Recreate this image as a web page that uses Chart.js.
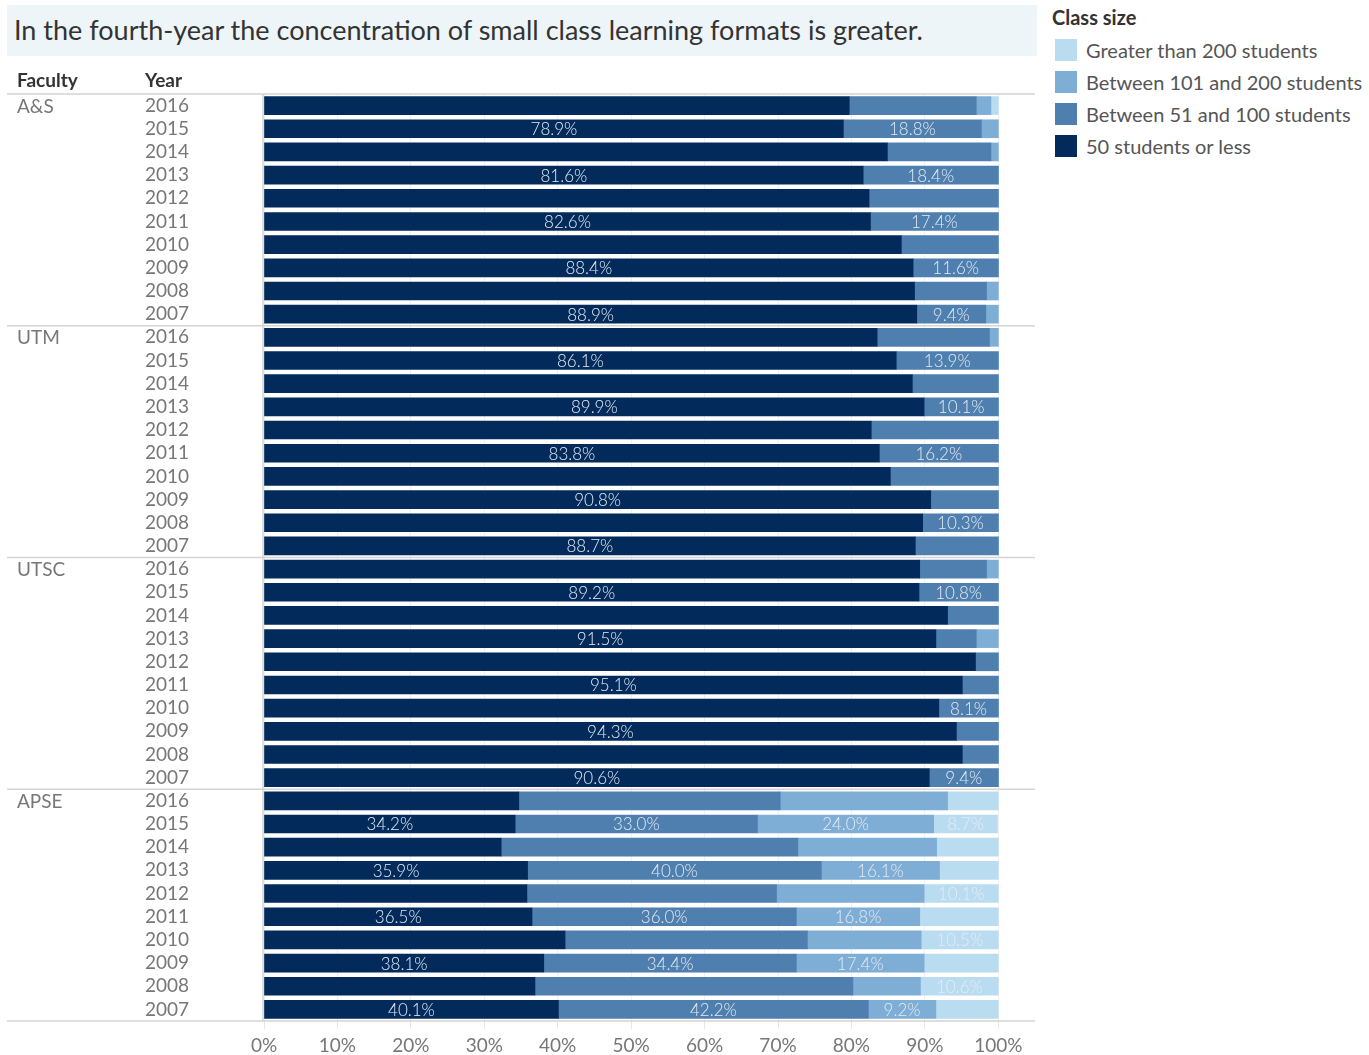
<!DOCTYPE html>
<html>
<head>
<meta charset="utf-8">
<script src="https://cdn.jsdelivr.net/npm/chart.js@4.4.1/dist/chart.umd.min.js"></script>
<style>
body { margin: 0; background: #fff; font-family: Lato, "Noto Sans", sans-serif; }
#wrap { position: relative; width: 1369px; height: 1055px; overflow: hidden; }
#chartBox { position: absolute; left: 0; top: 0; width: 1040px; height: 1055px; }
#title { position: absolute; left: 7px; top: 5px; width: 1030px; height: 51px; background: #eef5f9;
         color: #333; font-size: 27px; line-height: 50px; padding-left: 7px; box-sizing: border-box; }
.hdr { position: absolute; top: 68px; font-size: 19px; color: #333; font-weight: 700; }
#legend { position: absolute; left: 1052px; top: 5px; }
#legend .ttl { font-size: 20px; font-weight: 700; color: #333; margin-bottom: 5px; }
#legend .item { display: flex; align-items: center; height: 32px; margin-left: 3px; }
#legend .sw { width: 22px; height: 22px; margin-right: 9px; }
#legend .lbl { font-size: 20px; color: #555; }
</style>
</head>
<body>
<div id="wrap">
  <div id="chartBox"><canvas id="chart"></canvas></div>
  <div id="title">In the fourth-year the concentration of small class learning formats is greater.</div>
  <div class="hdr" style="left:17px">Faculty</div>
  <div class="hdr" style="left:145px">Year</div>
  <div id="legend"></div>
</div>
<script>
const faculties = ['A&S', 'UTM', 'UTSC', 'APSE'];
const years = ['2016', '2015', '2014', '2013', '2012', '2011', '2010', '2009', '2008', '2007'];
const seriesNames = ['50 students or less', 'Between 51 and 100 students', 'Between 101 and 200 students', 'Greater than 200 students'];
const seriesColors = ['#022b5c', '#4f7fae', '#7eadd5', '#badcf0'];
const xTicks = [0, 10, 20, 30, 40, 50, 60, 70, 80, 90, 100];

// rows: A&S 2016..2007, UTM 2016..2007, UTSC 2016..2007, APSE 2016..2007
const small = [
    79.7, 78.9, 84.9, 81.6, 82.4, 82.6, 86.8, 88.4, 88.6, 88.9,
    83.5, 86.1, 88.3, 89.9, 82.7, 83.8, 85.3, 90.8, 89.7, 88.7,
    89.3, 89.2, 93.1, 91.5, 96.9, 95.1, 91.9, 94.3, 95.1, 90.6,
    34.7, 34.2, 32.3, 35.9, 35.8, 36.5, 41.0, 38.1, 36.9, 40.1
];
const medium = [
    17.3, 18.8, 14.1, 18.4, 17.6, 17.4, 13.2, 11.6, 9.8, 9.4,
    15.3, 13.9, 11.7, 10.1, 17.3, 16.2, 14.7, 9.2, 10.3, 11.3,
    9.1, 10.8, 6.9, 5.5, 3.1, 4.9, 8.1, 5.7, 4.9, 9.4,
    35.6, 33.0, 40.4, 40.0, 34.0, 36.0, 33.0, 34.4, 43.3, 42.2
];
const large = [
    2.0, 2.3, 1.0, 0, 0, 0, 0, 0, 1.6, 1.7,
    1.2, 0, 0, 0, 0, 0, 0, 0, 0, 0,
    1.6, 0, 0, 3.0, 0, 0, 0, 0, 0, 0,
    22.8, 24.0, 18.9, 16.1, 20.1, 16.8, 15.5, 17.4, 9.2, 9.2
];
const huge = [
    1.0, 0, 0, 0, 0, 0, 0, 0, 0, 0,
    0, 0, 0, 0, 0, 0, 0, 0, 0, 0,
    0, 0, 0, 0, 0, 0, 0, 0, 0, 0,
    6.9, 8.7, 8.4, 8.0, 10.1, 10.7, 10.5, 10.1, 10.6, 8.5
];
// which rows show a value label, per series
const labelRows = [
    [1, 3, 5, 7, 9, 11, 13, 15, 17, 19, 21, 23, 25, 27, 29, 31, 33, 35, 37, 39],
    [1, 3, 5, 7, 9, 11, 13, 15, 18, 21, 26, 29, 31, 33, 35, 37, 39],
    [31, 33, 35, 37, 39],
    [31, 34, 36, 38]
];

const rowLabels = [];
faculties.forEach(() => years.forEach(y => rowLabels.push(y)));
const seriesData = [small, medium, large, huge];

// legend (reversed like the original)
document.getElementById('legend').innerHTML = '<div class="ttl">Class size</div>' +
    seriesNames.map((n, i) => `<div class="item"><div class="sw" style="background:${seriesColors[i]}"></div><span class="lbl">${n}</span></div>`)
        .reverse().join('');

const framePlugin = {
    id: 'frame',
    afterDraw(chart) {
        const ctx = chart.ctx;
        const area = chart.chartArea;
        const yScale = chart.scales.y;
        const rowH = (area.bottom - area.top) / rowLabels.length;
        ctx.save();
        ctx.strokeStyle = '#d4d4d4';
        ctx.lineWidth = 1.5;
        ctx.beginPath();
        ctx.moveTo(7, area.top); ctx.lineTo(area.right, area.top);
        faculties.forEach((f, g) => {
            const yy = area.top + (g + 1) * years.length * rowH;
            ctx.moveTo(7, yy); ctx.lineTo(area.right, yy);
        });
        ctx.moveTo(area.left - 1, area.top); ctx.lineTo(area.left - 1, area.bottom);
        ctx.stroke();

        ctx.fillStyle = '#777';
        ctx.font = '19px Lato, "Noto Sans", sans-serif';
        ctx.textAlign = 'left';
        ctx.textBaseline = 'middle';
        faculties.forEach((f, g) => {
            ctx.fillText(f, 17, yScale.getPixelForValue(g * years.length) + 1);
        });
        ctx.restore();
    },
    afterDatasetsDraw(chart) {
        const ctx = chart.ctx;
        ctx.save();
        ctx.fillStyle = '#e4ebf4';
        ctx.font = '300 17px Lato, "Noto Sans", sans-serif';
        ctx.textAlign = 'center';
        ctx.textBaseline = 'middle';
        labelRows.forEach((rows, i) => {
            const meta = chart.getDatasetMeta(i);
            rows.forEach(r => {
                const bar = meta.data[r];
                ctx.fillText(seriesData[i][r].toFixed(1) + '%', (bar.x + bar.base) / 2, bar.y + 1);
            });
        });
        ctx.restore();
    }
};

new Chart(document.getElementById('chart'), {
    type: 'bar',
    data: {
        labels: rowLabels,
        datasets: seriesNames.map((n, i) => ({
            label: n,
            data: seriesData[i],
            backgroundColor: seriesColors[i],
            borderWidth: 0,
            barThickness: 18
        }))
    },
    options: {
        indexAxis: 'y',
        responsive: true,
        maintainAspectRatio: false,
        animation: false,
        layout: { padding: { left: 145, top: 94, right: 5, bottom: 0 } },
        plugins: {
            legend: { display: false },
            tooltip: { enabled: false }
        },
        scales: {
            x: {
                stacked: true,
                min: 0,
                max: 105,
                afterFit: s => { s.height = 34; },
                afterBuildTicks: s => { s.ticks = xTicks.map(v => ({ value: v })); },
                grid: { color: '#f0f0f0', tickLength: 8, tickColor: '#e6e6e6' },
                border: { display: false },
                ticks: {
                    color: '#777',
                    padding: 5,
                    autoSkip: false,
                    maxRotation: 0,
                    font: { family: 'Lato, "Noto Sans", sans-serif', size: 19 },
                    callback: v => v + '%'
                }
            },
            y: {
                stacked: true,
                afterFit: s => { s.width = 119; },
                grid: { display: false },
                border: { display: false },
                ticks: {
                    autoSkip: false,
                    crossAlign: 'far',
                    color: '#777',
                    padding: 0,
                    font: { family: 'Lato, "Noto Sans", sans-serif', size: 19 }
                }
            }
        }
    },
    plugins: [framePlugin]
});
</script>
</body>
</html>
